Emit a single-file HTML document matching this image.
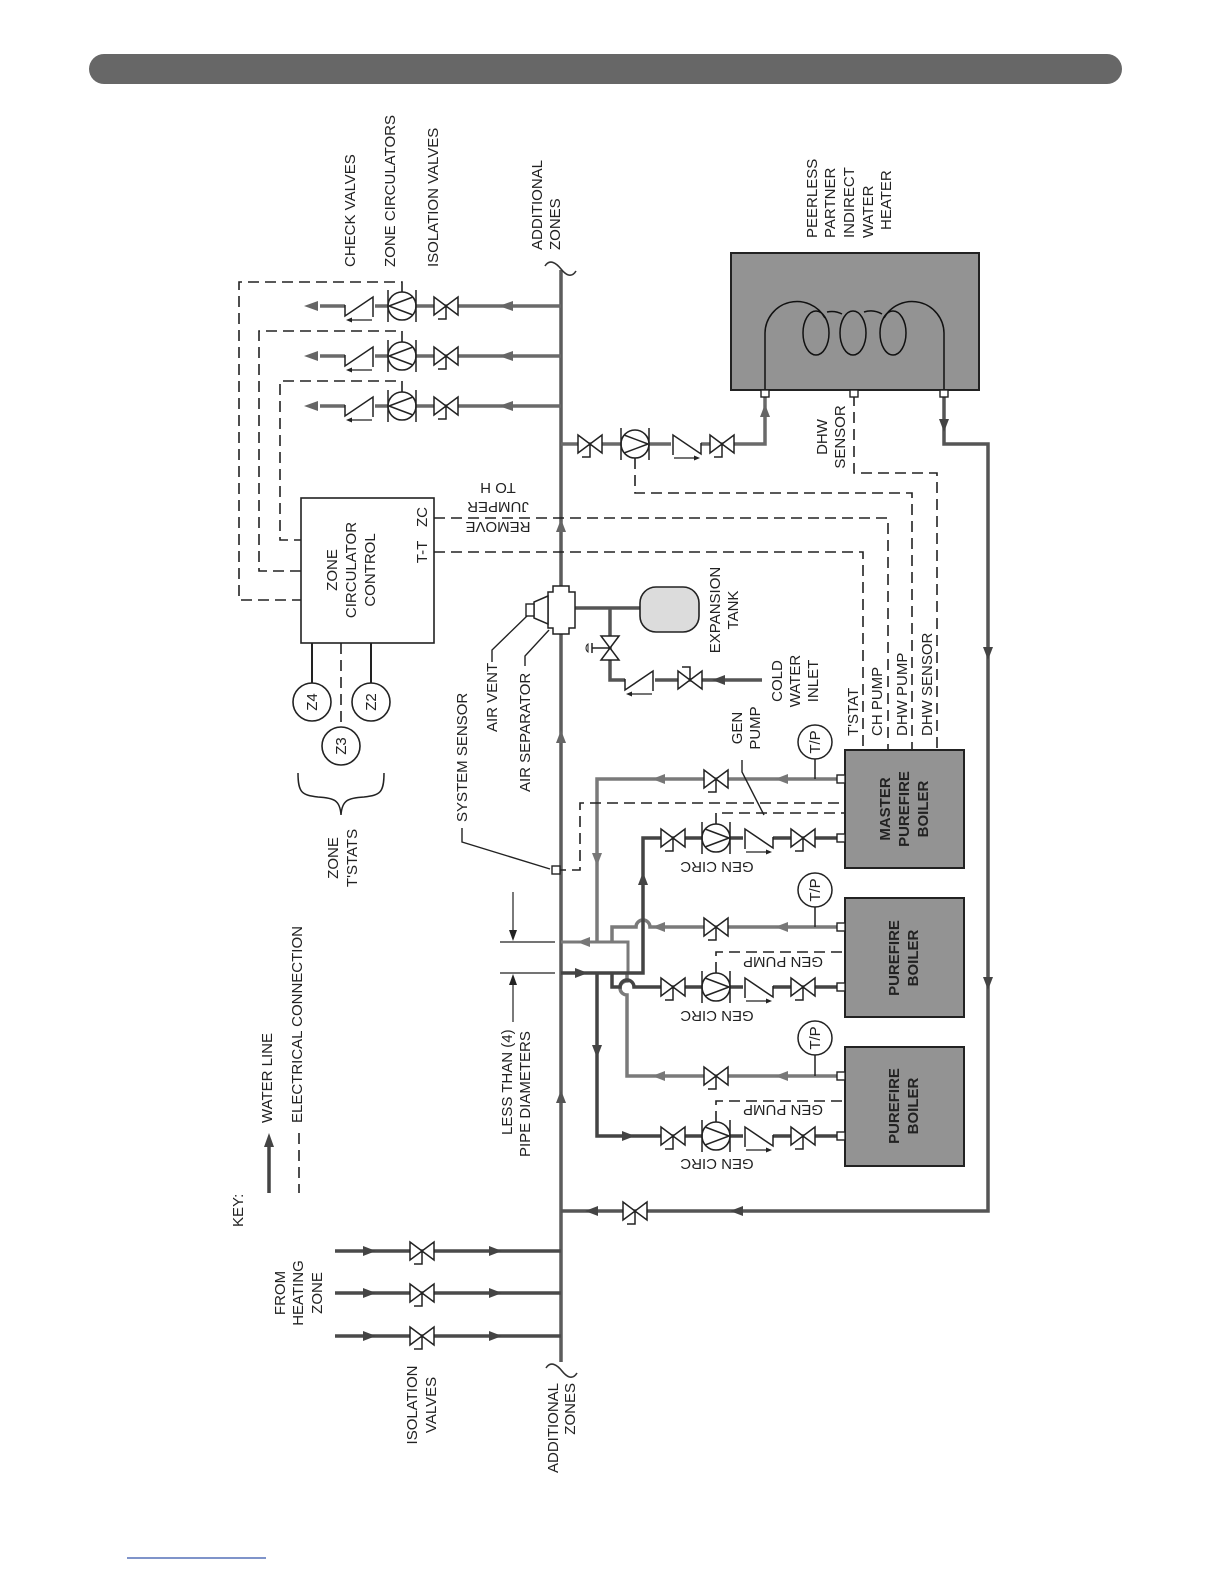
<!DOCTYPE html>
<html><head><meta charset="utf-8"><style>
html,body{margin:0;padding:0;background:#fff;}
svg{display:block;}
text{font-family:"Liberation Sans",Arial,sans-serif;font-size:15px;fill:#222;}
.b{font-weight:bold;}
</style></head><body>
<svg width="1224" height="1584" viewBox="0 0 1224 1584" xmlns="http://www.w3.org/2000/svg">
<defs>
<g id="v"><path d="M0,0 V13 H-8" fill="none" stroke="#222" stroke-width="1.5"/><path d="M-12,-9 L12,9 L12,-9 L-12,9 Z" fill="#fff" stroke="#222" stroke-width="1.5" stroke-linejoin="miter"/></g>
<g id="p"><circle r="14" fill="#fff" stroke="#222" stroke-width="1.6"/><path d="M-14,-16V16M14,-16V16M-13,0L11,-9M-13,0L11,9" stroke="#222" stroke-width="1.5" fill="none"/></g>
<g id="c"><rect x="-15" y="-10" width="30" height="20" fill="#fff"/><path d="M-15,-1V10L13,-9V11" stroke="#222" stroke-width="1.5" fill="none"/><path d="M12,14H-10" stroke="#222" stroke-width="1.3"/><path d="M-14,14l6,-2.5v5z" fill="#222"/></g>
<path id="al" d="M-9,0L5,-5V5Z"/>
</defs>

<rect x="89" y="54" width="1033" height="30" rx="15" fill="#676767"/>

<g fill="none" stroke-linecap="butt">
<path d="M561,270V1362" stroke="#5c5c5c" stroke-width="3.5"/>
<path d="M545,266c5,-8 12,-2 16,3c4,5 10,10 15,2" stroke="#333" stroke-width="1.6"/>
<path d="M546,1368c5,-8 12,-2 16,3c4,5 10,10 15,2" stroke="#333" stroke-width="1.6"/>
<path d="M561,306H320M561,356H320M561,406H320" stroke="#6a6a6a" stroke-width="3.5"/>
<path d="M561,444H765V390" stroke="#6a6a6a" stroke-width="3.5"/>
<path d="M944,390V444H988V1211H561" stroke="#555" stroke-width="3.5"/>
<path d="M335,1251H561M335,1293H561M335,1336H561" stroke="#4a4a4a" stroke-width="3.5"/>
<path d="M845,779H597V942" stroke="#7a7a7a" stroke-width="3.5"/>
<path d="M845,927H650a7,7 0 0 0 -14,0H612V942" stroke="#7a7a7a" stroke-width="3.5"/>
<path d="M845,1076H627V995a7,7 0 0 1 0,-14V973" stroke="#7a7a7a" stroke-width="3.5"/>
<path d="M561,942H628V973H561" stroke="#7a7a7a" stroke-width="3"/>
<path d="M561,973H643V838H845" stroke="#444" stroke-width="3.5"/>
<path d="M612,973V987H620a7,7 0 0 1 14,0H845" stroke="#444" stroke-width="3.5"/>
<path d="M597,973V1136H845" stroke="#444" stroke-width="3.5"/>
<path d="M575,608H640M610,608V680H762" stroke="#555" stroke-width="3.5"/>
</g>

<g fill="none" stroke="#222" stroke-width="1.6" stroke-dasharray="11,6">
<path d="M402,292V282H239V600H301"/>
<path d="M402,342V331H259V571H301"/>
<path d="M402,392V381H280V540H301"/>
<path d="M434,518H888V750"/>
<path d="M434,552H863V750"/>
<path d="M635,458V493H912V750"/>
<path d="M854,395V473H937V750"/>
<path d="M555,870H580V803H845"/>
<path d="M716,824V813H845"/>
<path d="M716,973V952H845"/>
<path d="M716,1122V1101H845"/>
<path d="M341,643V727"/>
<path d="M299,1133V1193"/>
</g>
<g stroke="#222" stroke-width="2"><path d="M312,643V683M371,643V683"/></g>

<rect x="301" y="498" width="133" height="145" fill="#fff" stroke="#222" stroke-width="1.6"/>
<text text-anchor="middle" transform="translate(337,570) rotate(-90)">ZONE</text>
<text text-anchor="middle" transform="translate(356,570) rotate(-90)">CIRCULATOR</text>
<text text-anchor="middle" transform="translate(375,570) rotate(-90)">CONTROL</text>
<text text-anchor="middle" transform="translate(427,552) rotate(-90)">T-T</text>
<text text-anchor="middle" transform="translate(427,517) rotate(-90)">ZC</text>

<g fill="#fff" stroke="#222" stroke-width="1.6">
<circle cx="312" cy="702" r="19"/><circle cx="371" cy="702" r="19"/><circle cx="341" cy="746" r="19"/>
</g>
<text text-anchor="middle" transform="translate(317,702) rotate(-90)">Z4</text>
<text text-anchor="middle" transform="translate(376,702) rotate(-90)">Z2</text>
<text text-anchor="middle" transform="translate(346,746) rotate(-90)">Z3</text>
<path d="M298,773c0,20 4,22 20,24c16,1 22,3 23,18c1,-15 7,-17 23,-18c16,-2 20,-4 20,-24" fill="none" stroke="#222" stroke-width="1.5"/>
<text text-anchor="middle" transform="translate(338,858) rotate(-90)">ZONE</text>
<text text-anchor="middle" transform="translate(357,858) rotate(-90)">T'STATS</text>

<g>
<use href="#v" x="446" y="306"/><use href="#p" x="402" y="306"/><use href="#c" x="360" y="306"/>
<use href="#v" x="446" y="356"/><use href="#p" x="402" y="356"/><use href="#c" x="360" y="356"/>
<use href="#v" x="446" y="406"/><use href="#p" x="402" y="406"/><use href="#c" x="360" y="406"/>
</g>
<g fill="#666">
<use href="#al" x="313" y="306"/><use href="#al" x="313" y="356"/><use href="#al" x="313" y="406"/>
<use href="#al" x="508" y="306"/><use href="#al" x="508" y="356"/><use href="#al" x="508" y="406"/>
</g>

<use href="#v" x="590" y="444"/>
<g transform="translate(635,444) rotate(180)"><use href="#p"/></g>
<g transform="translate(686,444) rotate(180) scale(1,-1)"><use href="#c"/></g>
<use href="#v" x="722" y="444"/>
<path d="M765,404l-5,13h10z" fill="#666"/>
<path d="M944,432l-5,-13h10z" fill="#444"/>
<path d="M988,660l-5,-13h10z" fill="#444"/>
<path d="M988,990l-5,-13h10z" fill="#444"/>
<path d="M730,1211l13,-5v10z" fill="#444"/>
<path d="M585,1211l13,-5v10z" fill="#444"/>
<use href="#v" x="635" y="1211"/>
<path d="M561,519l-5,13h10z" fill="#666"/>
<path d="M561,730l-5,13h10z" fill="#666"/>
<path d="M561,1090l-5,13h10z" fill="#555"/>

<rect x="731" y="253" width="248" height="137" fill="#939393" stroke="#222" stroke-width="2"/>
<g fill="none" stroke="#111" stroke-width="1.5">
<path d="M765,390V333A32,32 0 0 1 825,318"/>
<ellipse cx="816" cy="333" rx="13" ry="22"/><ellipse cx="853" cy="333" rx="13" ry="22"/><ellipse cx="893" cy="333" rx="13" ry="22"/>
<path d="M827,312A22,22 0 0 1 842,314M864,312A22,22 0 0 1 882,314"/>
<path d="M944,390V333A32,32 0 0 0 884,318"/>
</g>
<g fill="#fff" stroke="#222" stroke-width="1.4">
<rect x="761" y="390" width="8" height="7"/><rect x="850" y="390" width="8" height="7"/><rect x="940" y="390" width="8" height="7"/>
</g>
<text transform="translate(817,238) rotate(-90)">PEERLESS</text>
<text transform="translate(835,238) rotate(-90)">PARTNER</text>
<text transform="translate(854,238) rotate(-90)">INDIRECT</text>
<text transform="translate(873,238) rotate(-90)">WATER</text>
<text transform="translate(891,230) rotate(-90)">HEATER</text>
<text text-anchor="middle" transform="translate(827,437) rotate(-90)">DHW</text>
<text text-anchor="middle" transform="translate(845,437) rotate(-90)">SENSOR</text>

<text text-anchor="middle" transform="translate(498,522) rotate(180)">REMOVE</text>
<text text-anchor="middle" transform="translate(498,502) rotate(180)">JUMPER</text>
<text text-anchor="middle" transform="translate(498,483) rotate(180)">TO H</text>

<rect x="640" y="587" width="59" height="45" rx="16" fill="#dcdcdc" stroke="#222" stroke-width="1.6"/>
<path d="M548,592h5v-6h16v6h6v36h-6v6h-16v-6h-5z" fill="#fff" stroke="#222" stroke-width="1.5"/>
<path d="M548,596L534,602V618L548,624Z" fill="#fff" stroke="#222" stroke-width="1.5"/>
<rect x="526" y="604" width="8" height="12" fill="#fff" stroke="#222" stroke-width="1.4"/>
<g transform="translate(610,648) rotate(90)"><path d="M-12,-9 L12,9 L12,-9 L-12,9 Z" fill="#fff" stroke="#222" stroke-width="1.5"/><path d="M0,0V18M-5,18H5" stroke="#222" stroke-width="1.5"/><path d="M-4,22a5,5 0 0 0 8,0z" fill="#fff" stroke="#222"/></g>
<use href="#c" x="640" y="680"/>
<g transform="translate(690,680) scale(1,-1)"><use href="#v"/></g>
<path d="M712,680l13,-5v10z" fill="#444"/>
<text text-anchor="middle" transform="translate(720,610) rotate(-90)">EXPANSION</text>
<text text-anchor="middle" transform="translate(738,610) rotate(-90)">TANK</text>
<text text-anchor="middle" transform="translate(782,681) rotate(-90)">COLD</text>
<text text-anchor="middle" transform="translate(800,681) rotate(-90)">WATER</text>
<text text-anchor="middle" transform="translate(818,681) rotate(-90)">INLET</text>

<g fill="none" stroke="#222" stroke-width="1.4">
<path d="M492,662V650L527,616"/>
<path d="M525,666V656L549,630"/>
<path d="M462,828V842L550,869"/>
<path d="M742,760V772L764,815"/>
</g>
<rect x="552" y="866" width="8" height="8" fill="#fff" stroke="#222" stroke-width="1.4"/>
<text transform="translate(467,822) rotate(-90)">SYSTEM SENSOR</text>
<text transform="translate(497,732) rotate(-90)">AIR VENT</text>
<text transform="translate(530,792) rotate(-90)">AIR SEPARATOR</text>
<text text-anchor="middle" transform="translate(742,728) rotate(-90)">GEN</text>
<text text-anchor="middle" transform="translate(760,728) rotate(-90)">PUMP</text>
<text transform="translate(858,736) rotate(-90)">T'STAT</text>
<text transform="translate(882,736) rotate(-90)">CH PUMP</text>
<text transform="translate(907,736) rotate(-90)">DHW PUMP</text>
<text transform="translate(932,736) rotate(-90)">DHW SENSOR</text>

<g fill="#939393" stroke="#222" stroke-width="2">
<rect x="845" y="750" width="119" height="118"/>
<rect x="845" y="898" width="119" height="119"/>
<rect x="845" y="1047" width="119" height="119"/>
</g>
<text class="b" text-anchor="middle" transform="translate(890,809) rotate(-90)">MASTER</text>
<text class="b" text-anchor="middle" transform="translate(909,809) rotate(-90)">PUREFIRE</text>
<text class="b" text-anchor="middle" transform="translate(928,809) rotate(-90)">BOILER</text>
<text class="b" text-anchor="middle" transform="translate(899,958) rotate(-90)">PUREFIRE</text>
<text class="b" text-anchor="middle" transform="translate(918,958) rotate(-90)">BOILER</text>
<text class="b" text-anchor="middle" transform="translate(899,1106) rotate(-90)">PUREFIRE</text>
<text class="b" text-anchor="middle" transform="translate(918,1106) rotate(-90)">BOILER</text>
<g fill="#fff" stroke="#222" stroke-width="1.4">
<rect x="837" y="775" width="8" height="8"/><rect x="837" y="834" width="8" height="8"/>
<rect x="837" y="923" width="8" height="8"/><rect x="837" y="983" width="8" height="8"/>
<rect x="837" y="1072" width="8" height="8"/><rect x="837" y="1132" width="8" height="8"/>
</g>
<g stroke="#222" stroke-width="1.5" fill="#fff">
<path d="M815,759V779M815,907V927M815,1055V1076"/>
<circle cx="815" cy="742" r="17"/><circle cx="815" cy="890" r="17"/><circle cx="815" cy="1038" r="17"/>
</g>
<text text-anchor="middle" font-size="14" transform="translate(820,742) rotate(-90)">T/P</text>
<text text-anchor="middle" font-size="14" transform="translate(820,890) rotate(-90)">T/P</text>
<text text-anchor="middle" font-size="14" transform="translate(820,1038) rotate(-90)">T/P</text>

<use href="#v" x="716" y="779"/><use href="#v" x="716" y="927"/><use href="#v" x="716" y="1076"/>
<g>
<use href="#v" x="673" y="838"/><g transform="translate(716,838) rotate(180)"><use href="#p"/></g><g transform="translate(758,838) rotate(180) scale(1,-1)"><use href="#c"/></g><use href="#v" x="803" y="838"/>
<use href="#v" x="673" y="987"/><g transform="translate(716,987) rotate(180)"><use href="#p"/></g><g transform="translate(758,987) rotate(180) scale(1,-1)"><use href="#c"/></g><use href="#v" x="803" y="987"/>
<use href="#v" x="673" y="1136"/><g transform="translate(716,1136) rotate(180)"><use href="#p"/></g><g transform="translate(758,1136) rotate(180) scale(1,-1)"><use href="#c"/></g><use href="#v" x="803" y="1136"/>
</g>
<g fill="#777">
<path d="M652,779l13,-5v10z"/><path d="M775,779l13,-5v10z"/>
<path d="M652,927l13,-5v10z"/><path d="M775,927l13,-5v10z"/>
<path d="M652,1076l13,-5v10z"/><path d="M775,1076l13,-5v10z"/>
<path d="M597,866l-5,-13h10z"/><path d="M577,942l13,-5v10z"/>
</g>
<g fill="#444">
<path d="M643,872l-5,13h10z"/><path d="M588,973l-13,-5v10z"/>
<path d="M597,1058l-5,-13h10z"/><path d="M635,1136l-13,-5v10z"/>
</g>
<text text-anchor="middle" transform="translate(717,862) rotate(180)">GEN CIRC</text>
<text text-anchor="middle" transform="translate(717,1011) rotate(180)">GEN CIRC</text>
<text text-anchor="middle" transform="translate(717,1159) rotate(180)">GEN CIRC</text>
<text text-anchor="middle" transform="translate(783,957) rotate(180)">GEN PUMP</text>
<text text-anchor="middle" transform="translate(783,1105) rotate(180)">GEN PUMP</text>

<g stroke="#222" stroke-width="1.2" fill="none">
<path d="M500,942H555M500,973H555M513,892V930M513,985V1022"/>
</g>
<path d="M513,941l-4,-11h8z" fill="#222"/><path d="M513,974l-4,11h8z" fill="#222"/>
<text transform="translate(512,1135) rotate(-90)">LESS THAN (4)</text>
<text transform="translate(530,1157) rotate(-90)">PIPE DIAMETERS</text>

<use href="#v" x="422" y="1251"/><use href="#v" x="422" y="1293"/><use href="#v" x="422" y="1336"/>
<g fill="#444">
<path d="M376,1251l-13,-5v10z"/><path d="M376,1293l-13,-5v10z"/><path d="M376,1336l-13,-5v10z"/>
<path d="M502,1251l-13,-5v10z"/><path d="M502,1293l-13,-5v10z"/><path d="M502,1336l-13,-5v10z"/>
</g>
<text text-anchor="middle" transform="translate(285,1293) rotate(-90)">FROM</text>
<text text-anchor="middle" transform="translate(303,1293) rotate(-90)">HEATING</text>
<text text-anchor="middle" transform="translate(322,1293) rotate(-90)">ZONE</text>
<text text-anchor="middle" transform="translate(417,1405) rotate(-90)">ISOLATION</text>
<text text-anchor="middle" transform="translate(436,1405) rotate(-90)">VALVES</text>
<text text-anchor="end" transform="translate(558,1383) rotate(-90)">ADDITIONAL</text>
<text text-anchor="end" transform="translate(575,1383) rotate(-90)">ZONES</text>

<text transform="translate(355,267) rotate(-90)">CHECK VALVES</text>
<text transform="translate(395,267) rotate(-90)">ZONE CIRCULATORS</text>
<text transform="translate(438,267) rotate(-90)">ISOLATION VALVES</text>
<text transform="translate(542,250) rotate(-90)">ADDITIONAL</text>
<text transform="translate(560,250) rotate(-90)">ZONES</text>

<text transform="translate(243,1227) rotate(-90)">KEY:</text>
<path d="M269,1193V1145" stroke="#444" stroke-width="3.5"/>
<path d="M269,1133l-5,14h10z" fill="#444"/>
<text transform="translate(272,1123) rotate(-90)">WATER LINE</text>
<text transform="translate(302,1123) rotate(-90)">ELECTRICAL CONNECTION</text>

<path d="M127,1558H266" stroke="#3355aa" stroke-width="1.2"/>
</svg>
</body></html>
